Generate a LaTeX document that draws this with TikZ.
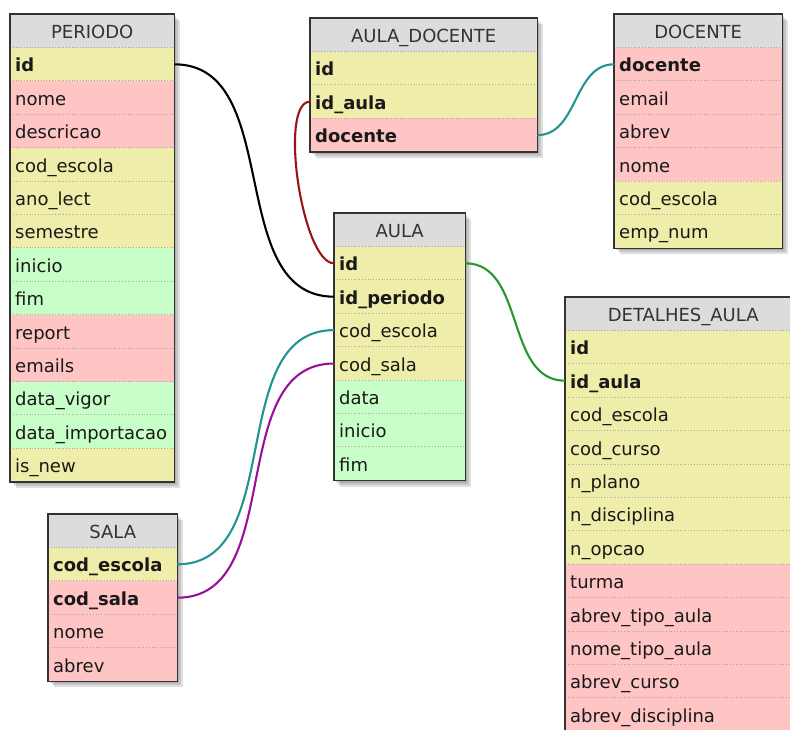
\documentclass[tikz,border=0pt]{standalone}
\usepackage{fontspec}
\setmainfont{DejaVu Sans}
\usetikzlibrary{backgrounds}
\definecolor{headgray}{HTML}{DCDCDC}
\definecolor{fldyellow}{HTML}{EEEEAA}
\definecolor{fldpink}{HTML}{FFC4C4}
\definecolor{fldgreen}{HTML}{C8FFC8}
\definecolor{framegray}{HTML}{333333}
\definecolor{lnred}{HTML}{991515}
\definecolor{lnteal}{HTML}{219494}
\definecolor{lngreen}{HTML}{22992B}
\definecolor{lnpurple}{HTML}{991199}
\tikzset{
  fieldfont/.style={font=\fontsize{18}{21}\selectfont},
  tabhead/.style={fieldfont, fill=headgray, text=black!80, anchor=north west, minimum height=33.4, inner sep=0pt, text height=15pt, text depth=0pt},
  tabrow/.style={fieldfont, text=black!90, anchor=north west, minimum height=33.4, inner xsep=5pt, inner ysep=0pt, text height=15pt, text depth=0pt, align=left},
  rowsep/.style={gray!70, dotted, line width=0.8pt},
  tabframe/.style={framegray, line width=1.4pt},
  link/.style={line width=2.1pt}
}
% #1 name, #2 title, #3 left, #4 top, #5 width, #6 rows key/colour/text
\newcommand{\dbtable}[6]{%
  \pgfmathsetmacro{\tabtw}{#5-10}
  \node[tabhead, minimum width=#5] (#1) at (#3,#4) {#2};
  \foreach \key/\col/\txt [count=\i] in {#6} {
    \node[tabrow, fill=\col, text width=\tabtw pt] (#1-\key) at (#3,{#4+33.4*\i}) {\txt};
    \draw[rowsep] (#1-\key.north west) -- (#1-\key.north east);
    \xdef\tablast{#1-\key}
  }
  \draw[tabframe] (#1.north west) rectangle (\tablast.south east);
  \begin{pgfonlayer}{background}
    \foreach \s in {2,4,6}
      \fill[black, opacity=0.12] ([shift={(\s,\s)}]#1.north west) rectangle ([shift={(\s,\s)}]\tablast.south east);
  \end{pgfonlayer}
}
\begin{document}
\begin{tikzpicture}[x=1pt, y=-1pt]
\useasboundingbox (0,0) rectangle (790,729);
% tables
\dbtable{periodo}{PERIODO}{10}{14}{164}{id/fldyellow/\textbf{id}, nome/fldpink/nome, descricao/fldpink/descricao, codescola/fldyellow/cod\_escola, anolect/fldyellow/ano\_lect, semestre/fldyellow/semestre, inicio/fldgreen/inicio, fim/fldgreen/fim, report/fldpink/report, emails/fldpink/emails, datavigor/fldgreen/data\_vigor, dataimport/fldgreen/data\_importacao, isnew/fldyellow/is\_new}
\dbtable{adoc}{AULA\_DOCENTE}{310}{18}{227}{id/fldyellow/\textbf{id}, idaula/fldyellow/\textbf{id\_aula}, docente/fldpink/\textbf{docente}}
\dbtable{docente}{DOCENTE}{614}{14}{168}{docente/fldpink/\textbf{docente}, email/fldpink/email, abrev/fldpink/abrev, nome/fldpink/nome, codescola/fldyellow/cod\_escola, empnum/fldyellow/emp\_num}
\dbtable{aula}{AULA}{334}{213}{131}{id/fldyellow/\textbf{id}, idperiodo/fldyellow/\textbf{id\_periodo}, codescola/fldyellow/cod\_escola, codsala/fldyellow/cod\_sala, data/fldgreen/data, inicio/fldgreen/inicio, fim/fldgreen/fim}
\dbtable{detalhes}{DETALHES\_AULA}{565}{297}{236}{id/fldyellow/\textbf{id}, idaula/fldyellow/\textbf{id\_aula}, codescola/fldyellow/cod\_escola, codcurso/fldyellow/cod\_curso, nplano/fldyellow/n\_plano, ndisciplina/fldyellow/n\_disciplina, nopcao/fldyellow/n\_opcao, turma/fldpink/turma, abrevtipo/fldpink/abrev\_tipo\_aula, nometipo/fldpink/nome\_tipo\_aula, abrevcurso/fldpink/abrev\_curso, abrevdisc/fldpink/abrev\_disciplina}
\dbtable{sala}{SALA}{48}{514}{129}{codescola/fldyellow/\textbf{cod\_escola}, codsala/fldpink/\textbf{cod\_sala}, nome/fldpink/nome, abrev/fldpink/abrev}
% relations
\draw[link, black] (periodo-id.east) to[out=0, in=180] (aula-idperiodo.west);
\draw[link, lnred] (adoc-idaula.west) to[out=180, in=180, looseness=0.5] (aula-id.west);
\draw[link, lnteal] (adoc-docente.east) to[out=0, in=180] (docente-docente.west);
\draw[link, lngreen] (aula-id.east) to[out=0, in=180] (detalhes-idaula.west);
\draw[link, lnteal] (sala-codescola.east) to[out=0, in=180] (aula-codescola.west);
\draw[link, lnpurple] (sala-codsala.east) to[out=0, in=180] (aula-codsala.west);
\end{tikzpicture}
\end{document}
